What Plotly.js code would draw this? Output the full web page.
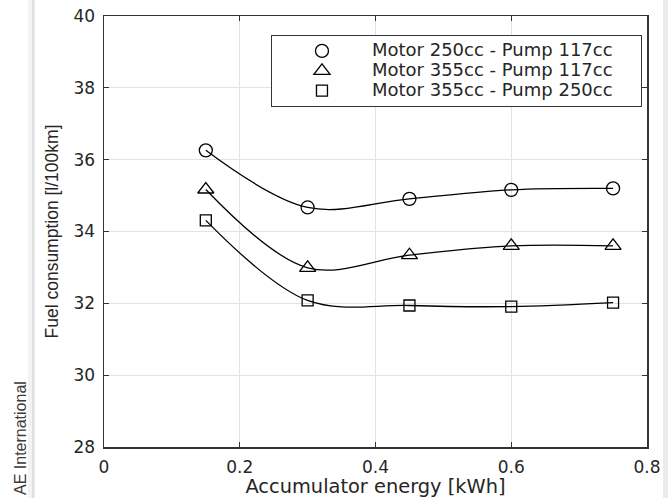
<!DOCTYPE html>
<html>
<head>
<meta charset="utf-8">
<script src="https://cdn.plot.ly/plotly-3.0.1.min.js"></script>
<style>html,body{margin:0;padding:0;background:#fff;}#chart{width:668px;height:498px;}</style>
</head>
<body>
<div id="chart"></div>
<script>
// Data
const energy = [0.15, 0.30, 0.45, 0.60, 0.75];              // Accumulator energy [kWh]
const motor250pump117 = [36.26, 34.67, 34.91, 35.16, 35.20]; // Fuel consumption [l/100km]
const motor355pump117 = [35.17, 32.99, 33.34, 33.60, 33.60];
const motor355pump250 = [34.31, 32.08, 31.94, 31.91, 32.02];
const seriesNames = ["Motor 250cc - Pump 117cc", "Motor 355cc - Pump 117cc", "Motor 355cc - Pump 250cc"];
const seriesSymbols = ["circle-open", "triangle-up-open", "square-open"];
const xTickVals = [0, 0.2, 0.4, 0.6, 0.8];
const yTickVals = [28, 30, 32, 34, 36, 38, 40];

const seriesValues = [motor250pump117, motor355pump117, motor355pump250];
const symbolSizes = [13, 14, 11];
const pad = '\u00a0\u00a0\u00a0\u00a0';
const traces = [];
seriesValues.forEach((vals, i) => {
  traces.push({
    x: energy, y: vals, type: 'scatter', mode: 'lines',
    line: {shape: 'spline', smoothing: 1, color: '#000', width: 1.3},
    showlegend: false, hoverinfo: 'skip'
  });
});
seriesValues.forEach((vals, i) => {
  traces.push({
    x: energy, y: vals, type: 'scatter', mode: 'markers',
    name: '<span style="font-size:18px">' + seriesNames[i] + pad + '</span>',
    marker: {symbol: seriesSymbols[i], size: symbolSizes[i], color: '#000', line: {width: 1.3, color: '#000'}},
    showlegend: true
  });
});

const axisCommon = {
  showline: true, linecolor: '#333', linewidth: 1.5, mirror: 'ticks',
  ticks: 'inside', ticklen: 5, tickwidth: 1, tickcolor: '#333',
  showgrid: true, gridcolor: '#e3e3e3', gridwidth: 1, zeroline: false,
  ticklabelstandoff: 4,
  tickfont: {family: 'DejaVu Sans, sans-serif', size: 17, color: '#262626'}
};

const layout = {
  width: 668, height: 498,
  margin: {l: 104, r: 21, t: 16, b: 51, pad: 0},
  paper_bgcolor: '#fff', plot_bgcolor: '#fff',
  xaxis: Object.assign({}, axisCommon, {
    range: [0, 0.8], tickvals: xTickVals, ticktext: xTickVals.map(v => String(v)),
    title: {text: 'Accumulator energy [kWh]', standoff: 4, font: {family: 'DejaVu Sans, sans-serif', size: 19.4, color: '#262626'}}
  }),
  yaxis: Object.assign({}, axisCommon, {
    range: [28, 40], tickvals: yTickVals, ticktext: yTickVals.map(v => String(v)),
    title: {text: 'Fuel consumption [l/100km]', standoff: 10, font: {family: 'Liberation Sans, Arial, sans-serif', size: 17.5, color: '#262626'}}
  }),
  legend: {
    x: 0.3075, y: 0.956, xanchor: 'left', yanchor: 'top',
    bgcolor: '#fff', bordercolor: '#333', borderwidth: 1,
    itemwidth: 90,
    font: {family: 'DejaVu Sans, sans-serif', size: 13, color: '#262626'}
  },
  shapes: [
    {type: 'rect', xref: 'paper', yref: 'paper', x0: (28-104)/543, x1: (32-104)/543, y0: -0.2, y1: 1.1, fillcolor: '#f3f3f3', line: {width: 0}},
    {type: 'rect', xref: 'paper', yref: 'paper', x0: (32-104)/543, x1: (34.5-104)/543, y0: -0.2, y1: 1.1, fillcolor: '#e0e0e0', line: {width: 0}},
    {type: 'rect', xref: 'paper', yref: 'paper', x0: (663-104)/543, x1: (669-104)/543, y0: -0.2, y1: 1.1, fillcolor: '#ececec', line: {width: 0}}
  ],
  annotations: [
    {text: 'AE International', xref: 'paper', yref: 'paper', x: (21-104)/543, y: (447-497)/431,
     xanchor: 'center', yanchor: 'bottom', textangle: -90, showarrow: false,
     font: {family: 'Liberation Sans, Arial, sans-serif', size: 16, color: '#3a3a3a'}}
  ]
};

Plotly.newPlot('chart', traces, layout, {displayModeBar: false, staticPlot: true});
</script>
</body>
</html>
